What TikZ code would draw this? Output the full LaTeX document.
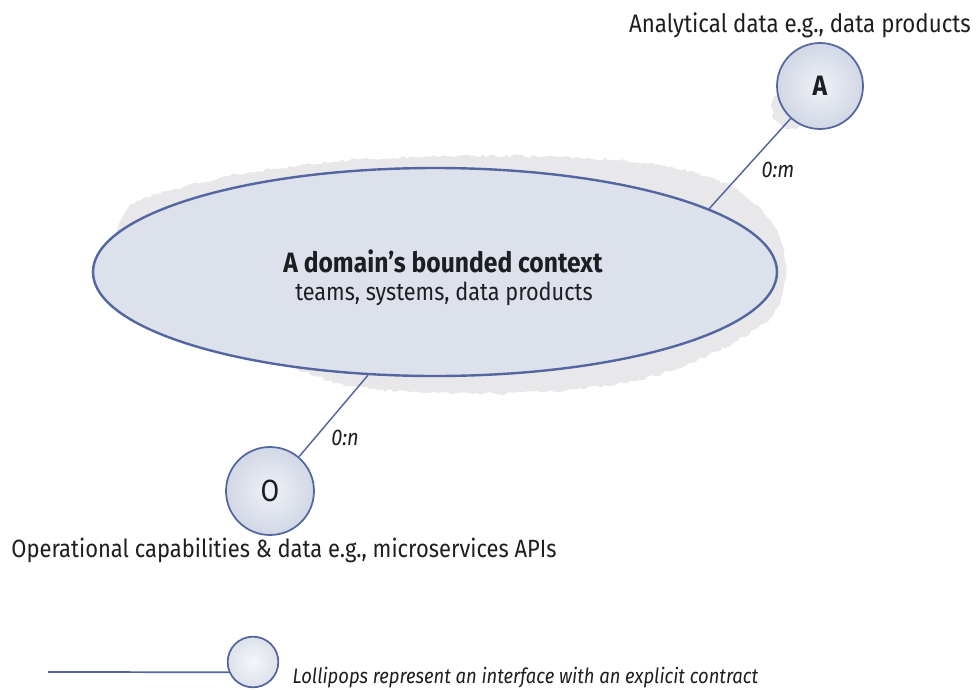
\documentclass[tikz,border=0pt]{standalone}
\usepackage{fontspec}
\setmainfont{Fira Sans}[FakeStretch=0.88]
\usetikzlibrary{shapes.geometric,decorations.pathmorphing}
\definecolor{edgec}{RGB}{84,102,160}
\definecolor{fillc}{RGB}{220,225,235}
\definecolor{hazec}{RGB}{232,232,234}
\definecolor{inkc}{RGB}{30,30,34}
\begin{document}
\begin{tikzpicture}[x=0.75pt,y=-0.75pt,
  every node/.style={text=inkc},
  ctxshape/.style={ellipse,draw=edgec,line width=1.8pt,fill=fillc,
    minimum width=513pt,minimum height=156pt,inner sep=0pt},
  lolly/.style={circle,draw=edgec,line width=1.3pt,inner sep=0pt,
    shading=radial,inner color=white!55!fillc,outer color=fillc!92!edgec},
  wire/.style={draw=edgec,line width=1.1pt},
  haze/.style={fill=hazec,decorate,decoration={random steps,segment length=3pt,amplitude=1.2pt}},
  lbl/.style={font=\fontsize{18.7}{20}\selectfont,anchor=base},
  card/.style={font=\fontsize{17}{19}\itshape,anchor=base}
]
\useasboundingbox (0,0) rectangle (978,689);

% grey haze behind the bounded context
\path[haze] plot[smooth cycle] coordinates {
  (110,250) (128,208) (172,190) (250,172) (350,160) (450,156) (560,157)
  (660,165) (735,188) (775,228) (786,275) (770,318) (715,352) (640,380)
  (540,392) (430,393) (350,386) (305,372) (220,345) (140,315) (112,285)};
% grey haze behind the analytical port
\path[haze] (792,108) circle [radius=15pt];

% bounded context
\node[ctxshape] (ctx) at (435,272) {};
\node[font=\fontsize{21}{23}\bfseries,anchor=base] (ttl) at (443,272) {A domain’s bounded context};
\node[font=\fontsize{18.5}{21}\selectfont,anchor=base] (sub) at (444,300) {teams, systems, data products};

% ports
\node[lolly,minimum size=64.5pt,font=\fontsize{21}{23}\bfseries] (A) at (820,86) {A};
\node[lolly,minimum size=66pt,font=\fontsize{23}{25}\selectfont] (O) at (270,491) {O};

\draw[wire] (A) -- (ctx.13.2);
\draw[wire] (O) -- (ctx.237.9);

\node[card] (cm) at (778,177) {0:m};
\node[card] (cn) at (345,445) {0:n};

\node[lbl,font=\fontsize{19}{20}\selectfont] (anl) at (800,32) {Analytical data e.g., data products};
\node[lbl] (opl) at (284,557) {Operational capabilities \& data e.g., microservices APIs};

% legend
\coordinate (lg0) at (48,672);
\node[lolly,minimum size=38pt,shading=radial,inner color=white!70!fillc,outer color=fillc] (lgc) at (253,662) {};
\draw[wire,line width=1.3pt] (lg0) -- (lgc.203.6);
\node[font=\fontsize{15.7}{17}\itshape,anchor=base west] (lgt) at (288,683) {Lollipops represent an interface with an explicit contract};
\end{tikzpicture}
\end{document}
